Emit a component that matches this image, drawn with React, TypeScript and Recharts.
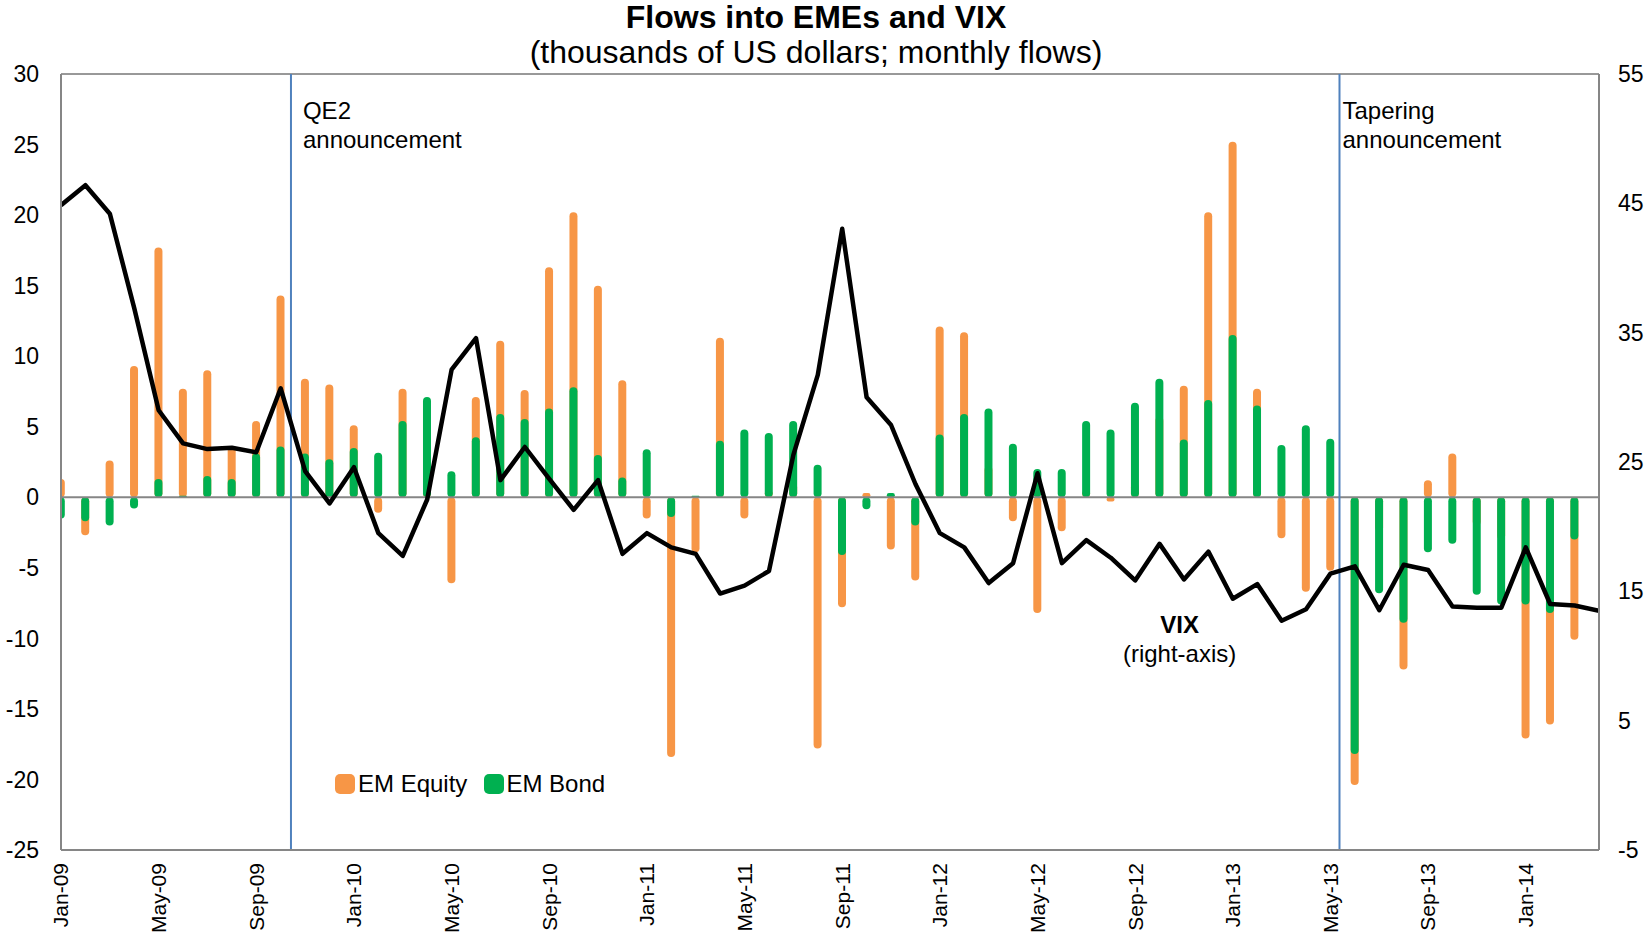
import React from "react";
import {
  ComposedChart,
  Bar,
  Line,
  XAxis,
  YAxis,
  ReferenceLine,
  ReferenceDot,
  Legend,
} from "recharts";

const FONT = "'Liberation Sans', Arial, Helvetica, sans-serif";
const ORANGE = "#F79646";
const GREEN = "#00B050";

const months = [
  "Jan-09", "Feb-09", "Mar-09", "Apr-09", "May-09", "Jun-09", "Jul-09", "Aug-09", "Sep-09", "Oct-09", "Nov-09", "Dec-09",
  "Jan-10", "Feb-10", "Mar-10", "Apr-10", "May-10", "Jun-10", "Jul-10", "Aug-10", "Sep-10", "Oct-10", "Nov-10", "Dec-10",
  "Jan-11", "Feb-11", "Mar-11", "Apr-11", "May-11", "Jun-11", "Jul-11", "Aug-11", "Sep-11", "Oct-11", "Nov-11", "Dec-11",
  "Jan-12", "Feb-12", "Mar-12", "Apr-12", "May-12", "Jun-12", "Jul-12", "Aug-12", "Sep-12", "Oct-12", "Nov-12", "Dec-12",
  "Jan-13", "Feb-13", "Mar-13", "Apr-13", "May-13", "Jun-13", "Jul-13", "Aug-13", "Sep-13", "Oct-13", "Nov-13", "Dec-13",
  "Jan-14", "Feb-14", "Mar-14", "Apr-14",
];

// EM equity flows (left axis)
const equity = [
  1.3, -2.7, 2.6, 9.3, 17.7, 7.7, 9.0, 3.6, 5.4, 14.3, 8.4, 8.0,
  5.1, -1.1, 7.7, 0.5, -6.1, 7.1, 11.1, 7.6, 16.3, 20.2, 15.0, 8.3,
  -1.5, -18.4, -3.9, 11.3, -1.5, 0.5, 1.0, -17.8, -7.8, 0.3, -3.7, -5.9,
  12.1, 11.7, 2.2, -1.7, -8.2, -2.4, 0.5, -0.3, 1.0, 5.7, 7.9, 20.2,
  25.2, 7.7, -2.9, -6.7, -5.2, -20.4, -2.4, -12.2, 1.2, 3.1, -2.0, -3.0,
  -17.1, -16.1, -10.1, null,
];

// EM bond flows (left axis)
const bond = [
  -1.5, -1.7, -2.0, -0.8, 1.3, 0.1, 1.5, 1.3, 3.1, 3.6, 3.1, 2.7,
  3.5, 3.15, 5.4, 7.1, 1.85, 4.25, 5.9, 5.55, 6.3, 7.8, 3.0, 1.4,
  3.4, -1.4, 0.1, 4.0, 4.8, 4.55, 5.4, 2.3, -4.1, -0.85, 0.3, -2.0,
  4.45, 5.9, 6.3, 3.8, 2.0, 2.0, 5.4, 4.8, 6.7, 8.4, 4.1, 6.9,
  11.5, 6.5, 3.7, 5.1, 4.15, -18.2, -6.8, -8.9, -3.9, -3.3, -6.9, -7.6,
  -7.6, -8.2, -3.0, null,
];

// VIX (right axis)
const vix = [
  44.85, 46.4, 44.2, 36.9, 29.0, 26.44, 26.0, 26.1, 25.75, 30.7, 24.3, 21.8,
  24.6, 19.5, 17.74, 22.1, 32.14, 34.57, 23.6, 26.16, 23.7, 21.3, 23.6, 17.9,
  19.5, 18.4, 17.9, 14.83, 15.44, 16.57, 25.55, 31.74, 43.03, 30.0, 27.86, 23.3,
  19.5, 18.4, 15.64, 17.18, 24.13, 17.18, 18.96, 17.6, 15.84, 18.67, 15.92, 18.07,
  14.43, 15.56, 12.73, 13.62, 16.37, 16.93, 13.54, 17.06, 16.65, 13.82, 13.74, 13.74,
  18.4, 14.02, 13.9, 13.5,
];

const xTicks = [0, 4, 8, 12, 16, 20, 24, 28, 32, 36, 40, 44, 48, 52, 56, 60];
const leftTicks = [-25, -20, -15, -10, -5, 0, 5, 10, 15, 20, 25, 30];
const rightTicks = [-5, 5, 15, 25, 35, 45, 55];

const data = months.map((m, i) => ({
  i,
  month: m,
  equity: equity[i],
  bond: bond[i],
  vix: vix[i],
}));

const XTick = (props: any) => {
  const { x, y, payload } = props;
  return (
    <text
      x={x}
      y={y}
      dy="0.35em"
      textAnchor="end"
      transform={`rotate(-90 ${x} ${y})`}
      fill="#000"
      fontSize={21}
      fontFamily={FONT}
    >
      {months[payload.value]}
    </text>
  );
};

const lineNote = (lines: string[], dx: number) => (props: any) => {
  const vb = props.viewBox || { x: 0, y: 0 };
  const x = vb.x + dx;
  return (
    <text x={x} y={vb.y + 45} fontSize={24} fill="#000" fontFamily={FONT}>
      {lines.map((t, k) => (
        <tspan key={k} x={x} dy={k === 0 ? 0 : 29}>
          {t}
        </tspan>
      ))}
    </text>
  );
};

const vixNote = (props: any) => {
  const vb = props.viewBox || { x: 0, y: 0, width: 0, height: 0 };
  const cx = vb.x + (vb.width || 0) / 2;
  const cy = vb.y + (vb.height || 0) / 2;
  return (
    <text x={cx} y={cy} textAnchor="middle" fontSize={24} fill="#000" fontFamily={FONT}>
      <tspan x={cx} fontWeight="bold">VIX</tspan>
      <tspan x={cx} dy={29}>(right-axis)</tspan>
    </text>
  );
};

const swatch = (color: string) => ({
  display: "inline-block",
  width: 20,
  height: 20,
  borderRadius: 5,
  background: color,
});

const LegendBox = () => (
  <div
    style={{
      display: "flex",
      alignItems: "center",
      fontFamily: FONT,
      fontSize: 24,
      color: "#000",
      lineHeight: "28px",
      whiteSpace: "nowrap",
    }}
  >
    <span style={{ ...swatch(ORANGE), marginRight: 3 }} />
    <span>EM Equity</span>
    <span style={{ ...swatch(GREEN), marginLeft: 17, marginRight: 2 }} />
    <span>EM Bond</span>
  </div>
);

export default function App() {
  const W = 1646;
  const H = 933;
  return (
    <div
      style={{
        position: "absolute",
        left: 0,
        top: 0,
        width: W,
        height: H,
        overflow: "hidden",
        fontFamily: FONT,
        background: "#fff",
      }}
    >
      <svg
        style={{ position: "absolute", left: 0, top: 0 }}
        width={W}
        height={74}
        fontFamily={FONT}
      >
        <text x={816} y={28} textAnchor="middle" fontSize={32} fontWeight="bold" fill="#000">
          Flows into EMEs and VIX
        </text>
        <text x={816} y={63} textAnchor="middle" fontSize={32} fill="#000">
          (thousands of US dollars; monthly flows)
        </text>
      </svg>
      <ComposedChart
        width={W}
        height={H}
        data={data}
        margin={{ top: 74, right: 0, bottom: 3, left: 0 }}
      >
        <XAxis
          xAxisId="a"
          type="number"
          dataKey="i"
          domain={[0, 63]}
          ticks={xTicks}
          interval={0}
          height={80}
          tickLine={false}
          tickSize={0}
          tickMargin={13}
          axisLine={{ stroke: "#868686", strokeWidth: 2 }}
          tick={<XTick />}
          allowDataOverflow
        />
        <XAxis xAxisId="b" type="number" dataKey="i" domain={[0, 63]} hide allowDataOverflow />
        <YAxis
          yAxisId="left"
          orientation="left"
          width={61}
          domain={[-25, 30]}
          ticks={leftTicks}
          interval={0}
          tickLine={false}
          tickSize={0}
          tickMargin={22}
          axisLine={{ stroke: "#868686", strokeWidth: 2 }}
          tick={{ fill: "#000", fontSize: 23, fontFamily: FONT }}
          allowDataOverflow
        />
        <YAxis
          yAxisId="right"
          orientation="right"
          width={47}
          domain={[-5, 55]}
          ticks={rightTicks}
          interval={0}
          tickLine={false}
          tickSize={0}
          tickMargin={19}
          axisLine={{ stroke: "#868686", strokeWidth: 2 }}
          tick={{ fill: "#000", fontSize: 23, fontFamily: FONT }}
          allowDataOverflow
        />
        <ReferenceLine xAxisId="a" yAxisId="left" y={0} stroke="#868686" strokeWidth={2} />
        <ReferenceLine xAxisId="a" yAxisId="left" y={30} stroke="#333" strokeWidth={1} />
        <Bar
          xAxisId="a"
          yAxisId="left"
          dataKey="equity"
          name="EM Equity"
          fill={ORANGE}
          barSize={8}
          radius={4}
          isAnimationActive={false}
        />
        <Bar
          xAxisId="b"
          yAxisId="left"
          dataKey="bond"
          name="EM Bond"
          fill={GREEN}
          barSize={8}
          radius={4}
          isAnimationActive={false}
        />
        <ReferenceLine
          xAxisId="a"
          yAxisId="left"
          x={9.42}
          stroke="#4F81BD"
          strokeWidth={2}
          label={lineNote(["QE2", "announcement"], 12)}
        />
        <ReferenceLine
          xAxisId="a"
          yAxisId="left"
          x={52.37}
          stroke="#4F81BD"
          strokeWidth={2}
          label={lineNote(["Tapering", "announcement"], 3)}
        />
        <Line
          xAxisId="a"
          yAxisId="right"
          type="linear"
          dataKey="vix"
          name="VIX"
          stroke="#000"
          strokeWidth={4.5}
          strokeLinejoin="round"
          dot={false}
          activeDot={false}
          isAnimationActive={false}
        />
        <ReferenceDot
          xAxisId="a"
          yAxisId="right"
          x={45.82}
          y={11.78}
          r={0}
          fill="none"
          stroke="none"
          label={vixNote}
        />
        <Legend
          layout="vertical"
          verticalAlign="middle"
          align="center"
          content={LegendBox}
          wrapperStyle={{ left: 335, top: 770, width: 400 }}
        />
      </ComposedChart>
    </div>
  );
}
